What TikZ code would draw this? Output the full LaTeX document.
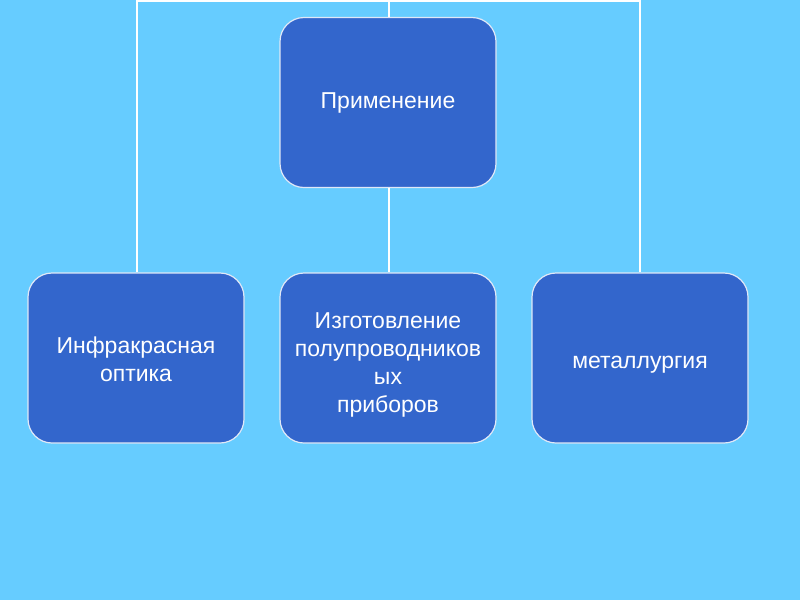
\documentclass[tikz,border=0pt]{standalone}
\usepackage{fontspec}
\setmainfont{Liberation Sans}
\definecolor{bgblue}{HTML}{66CCFF}
\definecolor{boxblue}{HTML}{3366CC}
\begin{document}
\begin{tikzpicture}[x=1pt,y=-1pt,
  box/.style={draw=white!85!boxblue, line width=1.2pt, fill=boxblue, rounded corners=24pt,
    minimum width=216pt, minimum height=170pt, inner sep=0pt},
  txt/.style={text=white, align=center, inner sep=0pt, font=\fontsize{23}{28}\selectfont},
  link/.style={draw=white, line width=2pt}]
\fill[bgblue] (0,0) rectangle (800,600);
\useasboundingbox (0,0) rectangle (800,600);
\node[box] (top) at (388,102.5) {};
\node[box] (left) at (136,358) {};
\node[box] (mid) at (388,358) {};
\node[box] (right) at (640,358) {};
\node[txt] (topt) at ([yshift=0pt]top.center) {Применение};
\node[txt] (leftt) at ([yshift=-1pt]left.center) {Инфракрасная\\оптика};
\node[txt] (midt) at ([yshift=-7pt]mid.center) {Изготовление\\полупроводников\\ых\\приборов};
\node[txt] (rightt) at ([yshift=-7pt]right.center) {металлургия};
\coordinate (tl) at (137,1);
\coordinate (tc) at (389,1);
\coordinate (tr) at (640,1);
\draw[link] (left.north -| tl) -- (tl) -- (tr) -- (right.north -| tr);
\draw[link] (tc) -- (top.north -| tc);
\draw[link] (top.south -| tc) -- (mid.north -| tc);
\end{tikzpicture}
\end{document}
